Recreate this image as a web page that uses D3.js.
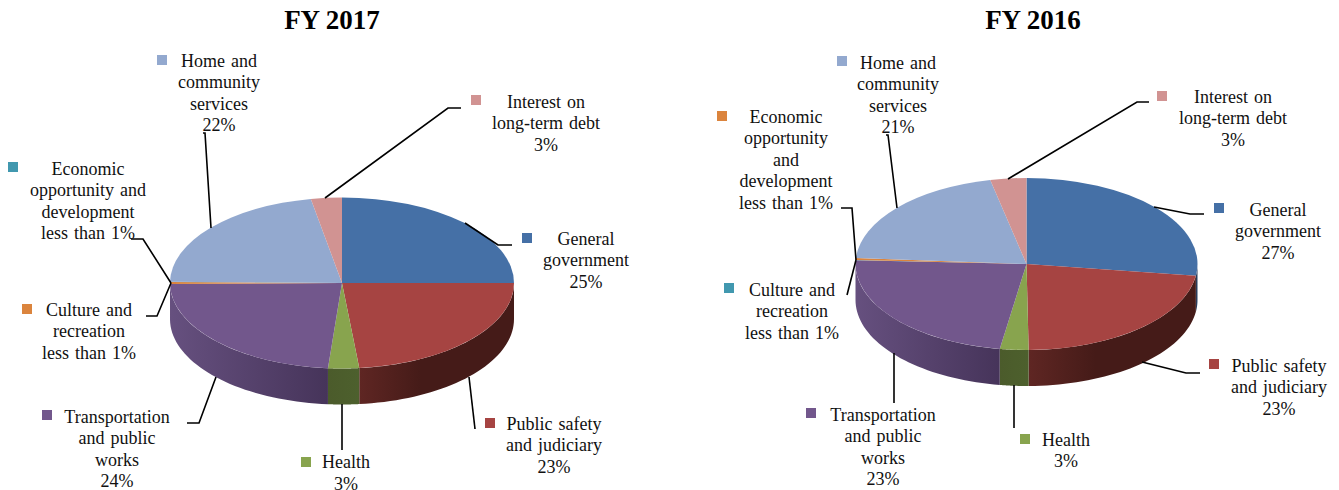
<!DOCTYPE html>
<html>
<head>
<meta charset="utf-8">
<script src="https://cdn.jsdelivr.net/npm/d3@7/dist/d3.min.js"></script>
<style>
  html, body { margin: 0; padding: 0; background: #fff; overflow: hidden; }
  svg { display: block; }
  text { font-family: "Liberation Serif", serif; fill: #111; }
</style>
</head>
<body>
<svg id="chart" width="1339" height="490"></svg>
<script>
// Budget shares by function, in slice order clockwise from twelve o'clock.
const categories2017 = ["General government", "Public safety and judiciary", "Health", "Transportation and public works", "Culture and recreation", "Economic opportunity and development", "Home and community services", "Interest on long-term debt"];
const values2017 = [25, 23.4, 2.9, 23.5, 0.4, 0.03, 21.87, 2.9];
const categories2016 = ["General government", "Public safety and judiciary", "Health", "Transportation and public works", "Culture and recreation", "Economic opportunity and development", "Home and community services", "Interest on long-term debt"];
const values2016 = [27.2, 22.6, 2.7, 23.2, 0.05, 0.35, 20.5, 3.4];

// Wrapped label text per category.
const wrap2017 = [["General", "government"], ["Public safety", "and judiciary"], ["Health"], ["Transportation", "and public", "works"], ["Culture and", "recreation"], ["Economic", "opportunity and", "development"], ["Home and", "community", "services"], ["Interest on", "long-term debt"]];
const wrap2016 = [["General", "government"], ["Public safety", "and judiciary"], ["Health"], ["Transportation", "and public", "works"], ["Culture and", "recreation"], ["Economic", "opportunity", "and", "development"], ["Home and", "community", "services"], ["Interest on", "long-term debt"]];

// Slice colours; the two small categories trade hues between the years.
const colors2017 = ["#4570a6", "#a64442", "#88a44e", "#72578c", "#db843d", "#4198af", "#93a9cf", "#d19392"];
const colors2016 = ["#4570a6", "#a64442", "#88a44e", "#72578c", "#4198af", "#db843d", "#93a9cf", "#d19392"];
const sideRamps = {
  "#4570a6": ["#2a3d5c", "#2a3d5c"],
  "#a64442": ["#5f2623", "#451b18"],
  "#88a44e": ["#4b5b2b", "#4d602d"],
  "#72578c": ["#66507f", "#46345a"],
  "#db843d": ["#8a5126", "#8a5126"],
  "#4198af": ["#285f6e", "#285f6e"]
};

// Label block centre, first-line centre y, swatch centre for each category.
const layout2017 = {
  cx: 342, cy: 283, rx: 172, ry: 85.5, depth: 36, title: "FY 2017", titleX: 332,
  labelX: [586, 554, 346, 117, 89, 88, 219, 546],
  labelY: [239, 424, 462.5, 417, 310, 169, 61, 102],
  swatchX: [527, 490, 306, 47, 27, 13, 162, 476],
  swatchY: [238, 423, 462, 415, 309, 167, 60, 100],
  leaders: [
    [[465, 223], [498, 245], [512, 245]],
    [[469, 377], [475, 429]],
    [[342, 404], [342, 450]],
    [[216, 377], [199, 423], [187, 423]],
    [[171, 283], [157, 316], [146, 316]],
    [[131, 239], [143, 239], [171, 283]],
    [[203, 133], [205, 133], [211, 228]],
    [[325, 198], [448, 108], [461, 108]]
  ]
};
const layout2016 = {
  cx: 1026.5, cy: 264, rx: 171, ry: 86, depth: 36, title: "FY 2016", titleX: 1033,
  labelX: [1278, 1279, 1066, 883, 792, 786, 898, 1233],
  labelY: [210, 366, 440, 415, 290, 117, 63, 97],
  swatchX: [1219, 1214, 1025, 811, 729, 722, 842, 1162],
  swatchY: [208, 364, 439, 413, 288, 116, 61, 96],
  leaders: [
    [[1154, 207], [1190, 214], [1204, 214]],
    [[1142, 362], [1186, 373], [1200, 373]],
    [[1014, 385], [1014, 428]],
    [[894, 353], [894, 403]],
    [[856, 260], [847, 295]],
    [[841, 208], [852, 208], [856, 260]],
    [[886, 135], [888, 135], [897, 208]],
    [[1008, 179], [1137, 102], [1149, 102]]
  ]
};

const svg = d3.select("#chart");
const defs = svg.append("defs");
const lineHeight = 21.6;

const percentLabel = v => v < 1 ? "less than 1%" : Math.round(v) + "%";

function drawPie(id, categories, values, wraps, colors, g) {
  const root = svg.append("g").attr("data-chart", id);
  const pie = d3.pie().sort(null).value(d => d)(values);
  const px = a => g.cx + g.rx * Math.sin(a);
  const py = a => g.cy - g.ry * Math.cos(a);
  const sample = (a0, a1) => d3.range(0, 41).map(i => a0 + (a1 - a0) * i / 40);
  const line = d3.line();

  // Rim: only the part of each slice facing the viewer is visible.
  pie.forEach((s, i) => {
    const a0 = Math.max(s.startAngle, Math.PI / 2);
    const a1 = Math.min(s.endAngle, 3 * Math.PI / 2);
    if (a1 <= a0) return;
    const ramp = sideRamps[colors[i]];
    const gid = `side-${id}-${i}`;
    // Ramps are ordered by x, left to right.
    const grad = defs.append("linearGradient").attr("id", gid)
      .attr("gradientUnits", "userSpaceOnUse")
      .attr("x1", Math.min(px(a0), px(a1))).attr("x2", Math.max(px(a0), px(a1)))
      .attr("y1", 0).attr("y2", 0);
    grad.append("stop").attr("offset", 0).attr("stop-color", ramp[0]);
    grad.append("stop").attr("offset", i === 1 ? 0.4 : 1).attr("stop-color", ramp[1]);
    const upper = sample(a0, a1).map(a => [px(a), py(a)]);
    const lower = sample(a1, a0).map(a => [px(a), py(a) + g.depth]);
    root.append("path").attr("d", line(upper.concat(lower)) + "Z").attr("fill", `url(#${gid})`);
  });

  // Top face: a circular pie flattened into an ellipse.
  const arc = d3.arc().innerRadius(0).outerRadius(g.rx);
  root.append("g")
    .attr("transform", `translate(${g.cx},${g.cy}) scale(1,${g.ry / g.rx})`)
    .selectAll("path").data(pie).join("path")
    .attr("d", arc)
    .attr("fill", (d, i) => colors[i]);

  // Leader lines.
  root.append("g").selectAll("path").data(g.leaders).join("path")
    .attr("d", d => line(d))
    .attr("fill", "none").attr("stroke", "#000").attr("stroke-width", 1.6);

  // Swatches and multi-line labels.
  root.append("g").selectAll("rect").data(categories).join("rect")
    .attr("x", (d, i) => g.swatchX[i] - 5).attr("y", (d, i) => g.swatchY[i] - 5)
    .attr("width", 10).attr("height", 10)
    .attr("fill", (d, i) => colors[i]);

  categories.forEach((c, i) => {
    const lines = wraps[i].concat([percentLabel(values[i])]);
    const t = root.append("text").attr("text-anchor", "middle")
      .attr("font-size", 18).attr("word-spacing", 1.5);
    lines.forEach((l, k) => {
      t.append("tspan").attr("x", g.labelX[i])
        .attr("y", g.labelY[i] + k * lineHeight + 5.5).text(l);
    });
  });

  root.append("text").attr("x", g.titleX).attr("y", 29)
    .attr("text-anchor", "middle").attr("font-size", 27).attr("font-weight", "bold")
    .style("fill", "#000").text(g.title);
}

drawPie("fy2017", categories2017, values2017, wrap2017, colors2017, layout2017);
drawPie("fy2016", categories2016, values2016, wrap2016, colors2016, layout2016);
</script>
</body>
</html>
